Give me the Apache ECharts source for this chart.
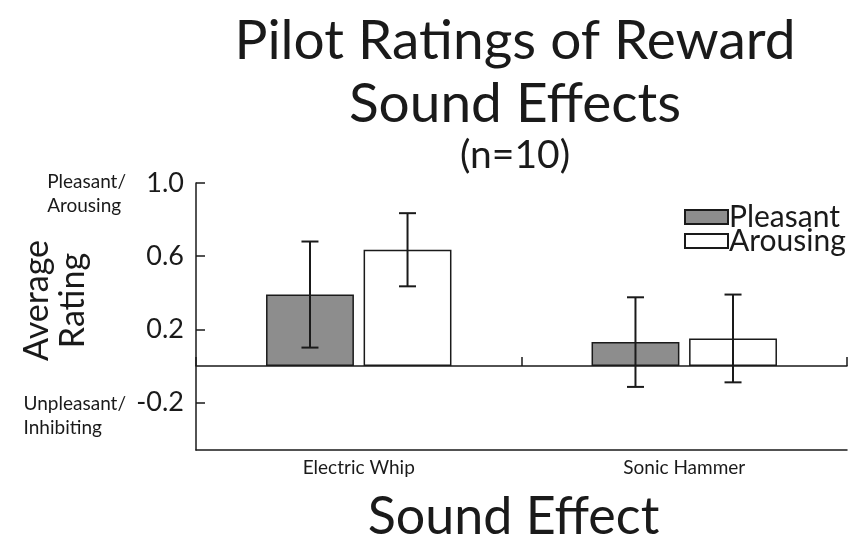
<!DOCTYPE html>
<html>
<head>
<meta charset="utf-8">
<script src="https://cdn.jsdelivr.net/npm/echarts@6/dist/echarts.min.js"></script>
<style>
html,body{margin:0;padding:0;background:#fff;}
#c{width:849px;height:547px;}
</style>
</head>
<body>
<div id="c"></div>
<script>
// ---- data ----
var categories = ['Electric Whip', 'Sonic Hammer'];
var pleasantMean = [0.39, 0.13];
var pleasantErr  = [0.29, 0.245];
var arousingMean = [0.635, 0.15];
var arousingErr  = [0.20, 0.24];
var yTicks = [-0.2, 0.2, 0.6, 1.0];

var FONT = 'Lato';
var INK = '#1a1a1a';

function errData(mean, err) {
  return mean.map(function (m, i) { return [i, m - err[i], m + err[i]]; });
}

var BAR_W = 0.27, BAR_GAP = 0.11;
function errRender(sign) {
  return function (params, api) {
    var band = api.size([1, 0])[0];
    var bw = band * BAR_W;
    var off = sign * (bw + bw * BAR_GAP) / 2;
    var lo = api.coord([api.value(0), api.value(1)]);
    var hi = api.coord([api.value(0), api.value(2)]);
    var x = lo[0] + off;
    var cap = 8.5;
    var st = { stroke: INK, lineWidth: 2 };
    return {
      type: 'group',
      children: [
        { type: 'line', shape: { x1: x, y1: lo[1], x2: x, y2: hi[1] }, style: st },
        { type: 'line', shape: { x1: x - cap, y1: lo[1], x2: x + cap, y2: lo[1] }, style: st },
        { type: 'line', shape: { x1: x - cap, y1: hi[1], x2: x + cap, y2: hi[1] }, style: st }
      ]
    };
  };
}

var chart = echarts.init(document.getElementById('c'), null, { renderer: 'canvas' });
var option = {
  backgroundColor: '#fff',
  animation: false,
  textStyle: { fontFamily: FONT, color: INK },
  title: [
    { text: 'Pilot Ratings of Reward\nSound Effects', left: 510, top: 5, textAlign: 'center',
      textStyle: { fontFamily: FONT, fontSize: 55, fontWeight: 'normal', color: INK, lineHeight: 63 } },
    { text: '(n=10)', left: 510, top: 131, textAlign: 'center',
      textStyle: { fontFamily: FONT, fontSize: 39, fontWeight: 'normal', color: INK } }
  ],
  legend: {
    data: ['Pleasant', 'Arousing'],
    orient: 'vertical', left: 679, top: 197,
    itemWidth: 43, itemHeight: 14, itemGap: -6,
    icon: 'rect',
    textStyle: { fontFamily: FONT, fontSize: 30, lineHeight: 24, color: INK, padding: [0, 0, 0, -4] }
  },
  grid: { left: 196, right: 2, top: 183, bottom: 97, containLabel: false, outerBoundsMode: 'none' },
  xAxis: [
    { type: 'category', data: categories, position: 'bottom',
      axisLine: { onZero: true, lineStyle: { color: INK, width: 1.5 } },
      axisTick: { show: true, inside: true, length: 9, lineStyle: { color: INK, width: 1.5 } },
      axisLabel: { show: false } },
    { type: 'category', data: categories, position: 'bottom',
      axisLine: { onZero: false, lineStyle: { color: INK, width: 1.5 } },
      axisTick: { show: false },
      axisLabel: { show: true, fontFamily: FONT, fontSize: 19, color: INK, margin: 8 },
      name: 'Sound Effect', nameLocation: 'middle', nameGap: 41,
      nameTextStyle: { fontFamily: FONT, fontSize: 52, color: INK, padding: [0, 16, 0, 0] } }
  ],
  yAxis: [
    { type: 'value', min: -0.46, max: 1.0,
      axisLine: { show: true, onZero: false, lineStyle: { color: INK, width: 1.5 } },
      axisTick: { show: true, inside: true, length: 9, customValues: yTicks, lineStyle: { color: INK, width: 1.5 } },
      axisLabel: { show: true, customValues: yTicks, fontFamily: FONT, fontSize: 27, color: INK, margin: 12,
        formatter: function (v) { return v.toFixed(1); } },
      splitLine: { show: false },
      name: 'Average\nRating', nameLocation: 'middle', nameRotate: 90, nameGap: 105,
      nameTextStyle: { fontFamily: FONT, fontSize: 34, color: INK, lineHeight: 36, padding: [0, 0, 0, 32] } }
  ],
  graphic: [
    { type: 'text', right: 849 - 126, top: 170,
      style: { text: 'Pleasant/\nArousing', align: 'right', fontFamily: FONT, fontSize: 19, lineHeight: 24, fill: INK } },
    { type: 'text', right: 849 - 126, top: 392,
      style: { text: 'Unpleasant/\nInhibiting', align: 'right', fontFamily: FONT, fontSize: 19, lineHeight: 24, fill: INK } }
  ],
  series: [
    { name: 'Pleasant', type: 'bar', data: pleasantMean, barWidth: (BAR_W * 100) + '%', barGap: (BAR_GAP * 100) + '%',
      itemStyle: { color: '#8d8d8d', borderColor: INK, borderWidth: 1.5 } },
    { name: 'Arousing', type: 'bar', data: arousingMean, barWidth: (BAR_W * 100) + '%', barGap: (BAR_GAP * 100) + '%',
      itemStyle: { color: '#ffffff', borderColor: INK, borderWidth: 1.5 } },
    { name: 'PleasantErr', type: 'custom', renderItem: errRender(-1), data: errData(pleasantMean, pleasantErr),
      encode: { x: 0, y: [1, 2] }, z: 5 },
    { name: 'ArousingErr', type: 'custom', renderItem: errRender(1), data: errData(arousingMean, arousingErr),
      encode: { x: 0, y: [1, 2] }, z: 5 }
  ]
};
chart.setOption(option);
</script>
</body>
</html>
